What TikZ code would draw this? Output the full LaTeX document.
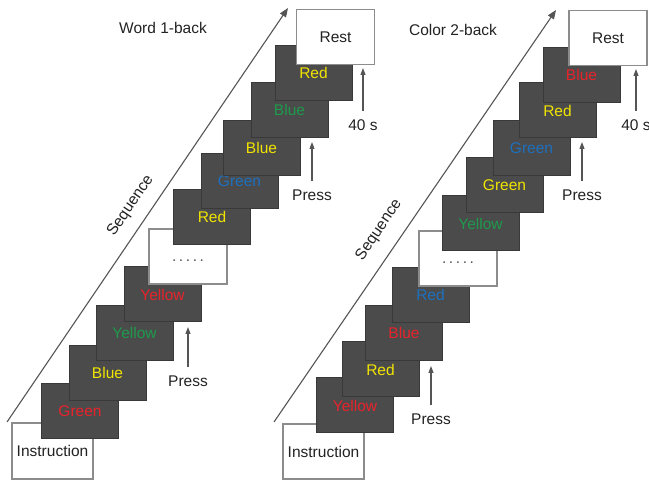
\documentclass[tikz,border=0pt]{standalone}
\usepackage{fontspec}
\setmainfont{Liberation Sans}
\usetikzlibrary{arrows.meta}

\definecolor{cardfill}{HTML}{4B4B4B}
\definecolor{cardedge}{HTML}{393939}
\definecolor{boxedge}{HTML}{8C8C8C}
\definecolor{arrowgray}{HTML}{555555}
\definecolor{inkblack}{HTML}{222222}
\definecolor{wyel}{HTML}{F2E400}
\definecolor{wred}{HTML}{E8232B}
\definecolor{wgrn}{HTML}{1E9A4B}
\definecolor{wblu}{HTML}{1E70BE}

\begin{document}
\begin{tikzpicture}[x=1pt,y=-1pt,
  every node/.style={font=\fontsize{15.5pt}{18pt}\selectfont, text=inkblack},
  card/.style={draw=cardedge, line width=1pt, fill=cardfill,
    minimum width=77pt, minimum height=55pt, inner sep=0pt},
  whitebox/.style={draw=boxedge, line width=1.6pt, fill=white,
    minimum width=78pt, minimum height=55pt, inner sep=0pt},
  dotsbox/.style={whitebox, text height=11pt, text depth=0pt, text=arrowgray},
  seqarrow/.style={draw=arrowgray, line width=1.1pt, -{Triangle[length=9pt,width=7pt]}},
  pressarrow/.style={draw=arrowgray, line width=1.1pt, shorten <=5pt,
    -{Triangle[length=7pt,width=5pt]}},
  seqlabel/.style={rotate=55.8},
]
\useasboundingbox (0,0) rectangle (649,481);

% ---------- Word 1-back ----------
\coordinate (sLa) at (7,422);
\coordinate (sLb) at (288,8);
\draw[seqarrow] (sLa) -- (sLb);
\node[seqlabel] (seqL) at (130.7,205.7) {Sequence};
\node (titleL) at (163,28) {Word 1-back};

\node[whitebox, minimum width=81pt, minimum height=56pt] (L0) at (52.5,451) {Instruction};
\node[card] (L1) at (80,411.5) {\color{wred}Green};
\node[card] (L2) at (107.5,373) {\color{wyel}Blue};
\node[card] (L3) at (134.5,333) {\color{wgrn}Yellow};
\node[card] (L4) at (162.5,294.5) {\color{wred}Yellow};
\node[dotsbox] (L5) at (188,256.5) {.\hspace{2.6pt}.\hspace{2.6pt}.\hspace{2.6pt}.\hspace{2.6pt}.};
\node[card] (L6) at (212,217) {\color{wyel}Red};
\node[card] (L7) at (239.5,181) {\color{wblu}Green};
\node[card] (L8) at (261.5,148) {\color{wyel}Blue};
\node[card] (L9) at (289.5,110) {\color{wgrn}Blue};
\node[card] (L10) at (313.5,73) {\color{wyel}Red};
\node[whitebox] (L11) at (335.5,37) {Rest};

\node (pL1) at (188,381) {Press};
\coordinate (pL1t) at (188,327);
\draw[pressarrow] (pL1.north) -- (pL1t);
\node (pL2) at (312,195) {Press};
\coordinate (pL2t) at (312,142);
\draw[pressarrow] (pL2.north) -- (pL2t);
\node (tL) at (363,125) {40 s};
\coordinate (tLt) at (363,68);
\draw[pressarrow] (tL.north) -- (tLt);

% ---------- Color 2-back ----------
\coordinate (sRa) at (274,422);
\coordinate (sRb) at (556,10);
\draw[seqarrow] (sRa) -- (sRb);
\node[seqlabel] (seqR) at (379,230) {Sequence};
\node (titleR) at (453,30) {Color 2-back};

\node[whitebox, minimum width=81pt] (R0) at (323.5,451.5) {Instruction};
\node[card] (R1) at (355,405.5) {\color{wred}Yellow};
\node[card] (R2) at (380.5,369.5) {\color{wyel}Red};
\node[card] (R3) at (404,333) {\color{wred}Blue};
\node[card] (R4) at (430.5,295) {\color{wblu}Red};
\node[dotsbox] (R5) at (458,258.5) {.\hspace{2.6pt}.\hspace{2.6pt}.\hspace{2.6pt}.\hspace{2.6pt}.};
\node[card] (R6) at (480.5,223.5) {\color{wgrn}Yellow};
\node[card] (R7) at (504.5,185.5) {\color{wyel}Green};
\node[card] (R8) at (531.5,148) {\color{wblu}Green};
\node[card] (R9) at (557.5,110.5) {\color{wyel}Red};
\node[card] (R10) at (581.5,75) {\color{wred}Blue};
\node[whitebox] (R11) at (608,38) {Rest};

\node (pR1) at (431,419) {Press};
\coordinate (pR1t) at (431,366);
\draw[pressarrow] (pR1.north) -- (pR1t);
\node (pR2) at (582,195) {Press};
\coordinate (pR2t) at (582,142);
\draw[pressarrow] (pR2.north) -- (pR2t);
\node (tR) at (636,125) {40 s};
\coordinate (tRt) at (636,69);
\draw[pressarrow] (tR.north) -- (tRt);
\end{tikzpicture}
\end{document}
